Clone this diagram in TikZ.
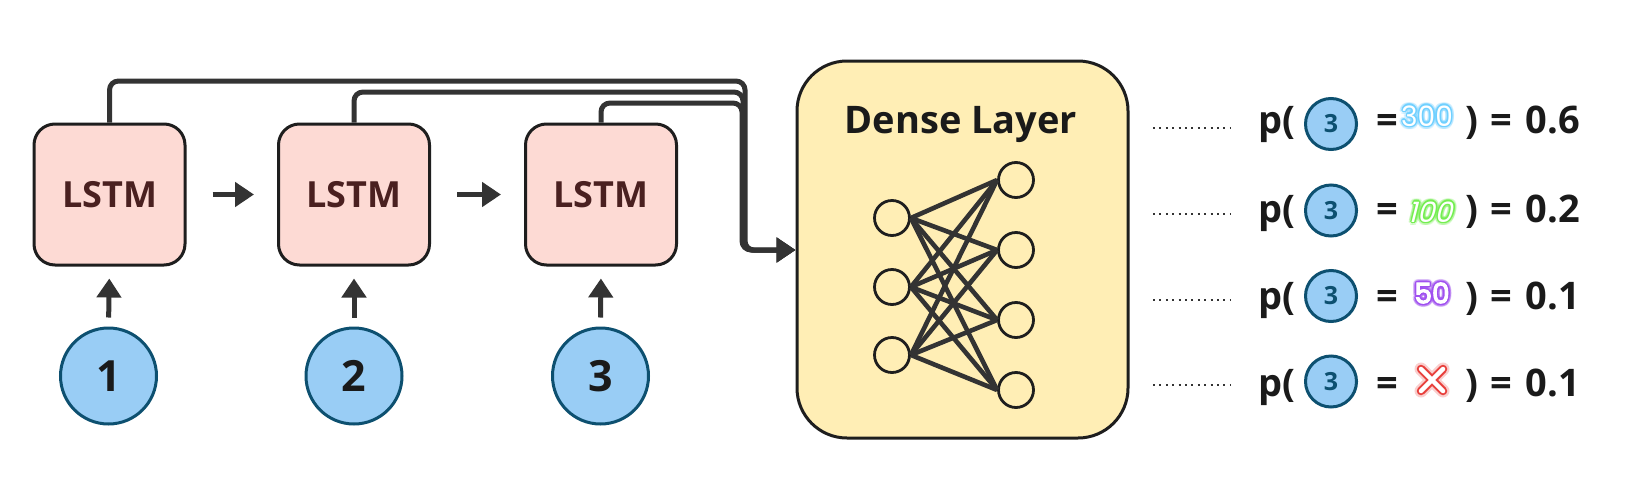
\documentclass[tikz,border=0pt]{standalone}
\usepackage{fontspec}
\setmainfont{Open Sans}
\newfontfamily\neonfont{Poppins}
\newfontfamily\neonslant[FakeSlant=0.25]{Poppins}
\newfontfamily\neonbold[FakeBold=4]{Poppins}
\usetikzlibrary{arrows.meta,calc}
\definecolor{lstmfill}{HTML}{FDDAD4}
\definecolor{lstmtext}{HTML}{4A2020}
\definecolor{edgec}{HTML}{1E1E1E}
\definecolor{connc}{HTML}{333333}
\definecolor{infill}{HTML}{99CDF5}
\definecolor{inborder}{HTML}{0D5070}
\definecolor{densefill}{HTML}{FFEEB5}
\definecolor{glowblue}{HTML}{6FD0FF}
\definecolor{glowgreen}{HTML}{74EE50}
\definecolor{glowpurple}{HTML}{A050F0}
\definecolor{glowred}{HTML}{E8403C}
\definecolor{textc}{HTML}{1A1A1A}

\newcommand\neontext[4]{% #1 name, #2 colour, #3 font, #4 text
  \foreach \ang in {0,30,...,330} {
    \node[inner sep=0pt, text=#2, text opacity=0.22, font=#3] (#1o\ang) at ($(#1)+(\ang:3.2pt)$) {#4};
  }
  \foreach \ang in {0,30,...,330} {
    \node[inner sep=0pt, text=#2, font=#3] (#1i\ang) at ($(#1)+(\ang:1.3pt)$) {#4};
  }
  \node[inner sep=0pt, text=white, font=#3] (#1t) at (#1) {#4};
}

\begin{document}
\begin{tikzpicture}[x=1pt,y=-1pt,
  lstm/.style={draw=edgec, line width=3pt, fill=lstmfill, rounded corners=21pt,
    minimum width=151pt, minimum height=141pt, inner sep=0pt,
    font=\fontsize{36}{40}\selectfont\bfseries, text=lstmtext},
  inp/.style={circle, draw=inborder, line width=3pt, fill=infill, minimum size=96pt,
    inner sep=0pt, font=\fontsize{43}{46}\selectfont\bfseries, text=textc},
  smallc/.style={circle, draw=inborder, line width=3pt, fill=infill, minimum size=51pt,
    inner sep=0pt, font=\fontsize{25}{27}\selectfont\bfseries, text=inborder},
  conn/.style={draw=connc, line width=5pt},
  arr/.style={conn, -{Triangle[width=24pt,length=19pt]}},
  neuron/.style={circle, draw=edgec, line width=2.8pt, minimum size=35pt, inner sep=0pt},
  nedge/.style={draw=connc, line width=4.6pt},
  big/.style={font=\fontsize{38}{40}\selectfont\bfseries, text=textc, inner sep=0pt},
  dots/.style={draw=connc, line width=2pt, dash pattern=on 2pt off 4.4pt},
]
\useasboundingbox[fill=white] (0,0) rectangle (1651,493);

% LSTM boxes
\node[lstm] (l1) at (109.5,194.5) {LSTM};
\node[lstm] (l2) at (354,194.5) {LSTM};
\node[lstm] (l3) at (601,194.5) {LSTM};

% inputs
\node[inp] (c1) at (108.5,376) {1};
\node[inp] (c2) at (354,376) {2};
\node[inp] (c3) at (600.5,376) {3};

\draw[arr, shorten <=9pt, shorten >=12pt] (c1.north) -- (l1.south);
\draw[arr, shorten <=9pt, shorten >=12pt] (c2.north) -- (l2.south);
\draw[arr, shorten <=9pt, shorten >=12pt] (c3.north) -- (l3.south);

\draw[arr, shorten <=26pt, shorten >=23pt] (l1.east) -- (l2.west);
\draw[arr, shorten <=26pt, shorten >=23pt] (l2.east) -- (l3.west);

% dense layer
\node[draw=edgec, line width=3pt, fill=densefill, rounded corners=50pt,
  minimum width=331pt, minimum height=377pt, inner sep=0pt] (dense) at (962.5,249.5) {};
\node[big, anchor=base] (dtitle) at (961,133) {Dense Layer};

% skip connections
\coordinate (t1) at (745,81);
\coordinate (t2) at (743,92);
\coordinate (t3) at (742,103);
\coordinate (bend) at (745,250);
\draw[arr, rounded corners=9pt] (l3.north) |- (t3) |- (dense.west |- bend);
\draw[arr, rounded corners=9pt] (l2.north) |- (t2) |- (dense.west |- bend);
\draw[arr, rounded corners=9pt] (l1.north) |- (t1) |- (dense.west |- bend);

% neurons
\node[neuron] (a1) at (892,218) {};
\node[neuron] (a2) at (892,287) {};
\node[neuron] (a3) at (892,355) {};
\node[neuron] (b1) at (1016,180) {};
\node[neuron] (b2) at (1016,250) {};
\node[neuron] (b3) at (1016,320) {};
\node[neuron] (b4) at (1016,390) {};
\foreach \i in {1,2,3} {
  \foreach \j in {1,2,3,4} {
    \draw[nedge] (a\i.east) -- (b\j.west);
  }
}

% output rows
\foreach \r/\cy/\by/\val in {1/124/133/0.6, 2/210.5/222/0.2, 3/296/309/0.1, 4/381.5/396/0.1} {
  \coordinate (d\r a) at (1153,\cy+3.5);
  \coordinate (d\r b) at (1231,\cy+3.5);
  \draw[dots] (d\r a) -- (d\r b);
  \node[big, anchor=base west] (p\r) at (1258,\by) {p(};
  \node[smallc] (s\r) at (1331,\cy) {3};
  \node[big, anchor=base] (e\r) at (1387,\by) {=};
  \node[big, anchor=base west] (v\r) at (1465,\by) {)\hspace{12pt}=\hspace{14pt}\val};
}

% neon values
\coordinate (nA) at (1427,116);
\coordinate (nB) at (1430,212);
\coordinate (nC) at (1432,293);
\neontext{nA}{glowblue}{\neonfont\fontsize{28}{30}\selectfont}{300}
\neontext{nB}{glowgreen}{\neonslant\fontsize{28}{30}\selectfont}{100}
\neontext{nC}{glowpurple}{\neonbold\fontsize{28}{30}\selectfont}{50}

% neon cross
\coordinate (xa) at (1421,369);
\coordinate (xb) at (1443,391);
\coordinate (xc) at (1443,369);
\coordinate (xd) at (1421,391);
\draw[glowred, opacity=0.25, line width=13pt, line cap=round] (xa) -- (xb) (xc) -- (xd);
\draw[glowred, line width=8.5pt, line cap=round] (xa) -- (xb) (xc) -- (xd);
\draw[white, line width=4.5pt, line cap=round] (xa) -- (xb) (xc) -- (xd);
\end{tikzpicture}
\end{document}
